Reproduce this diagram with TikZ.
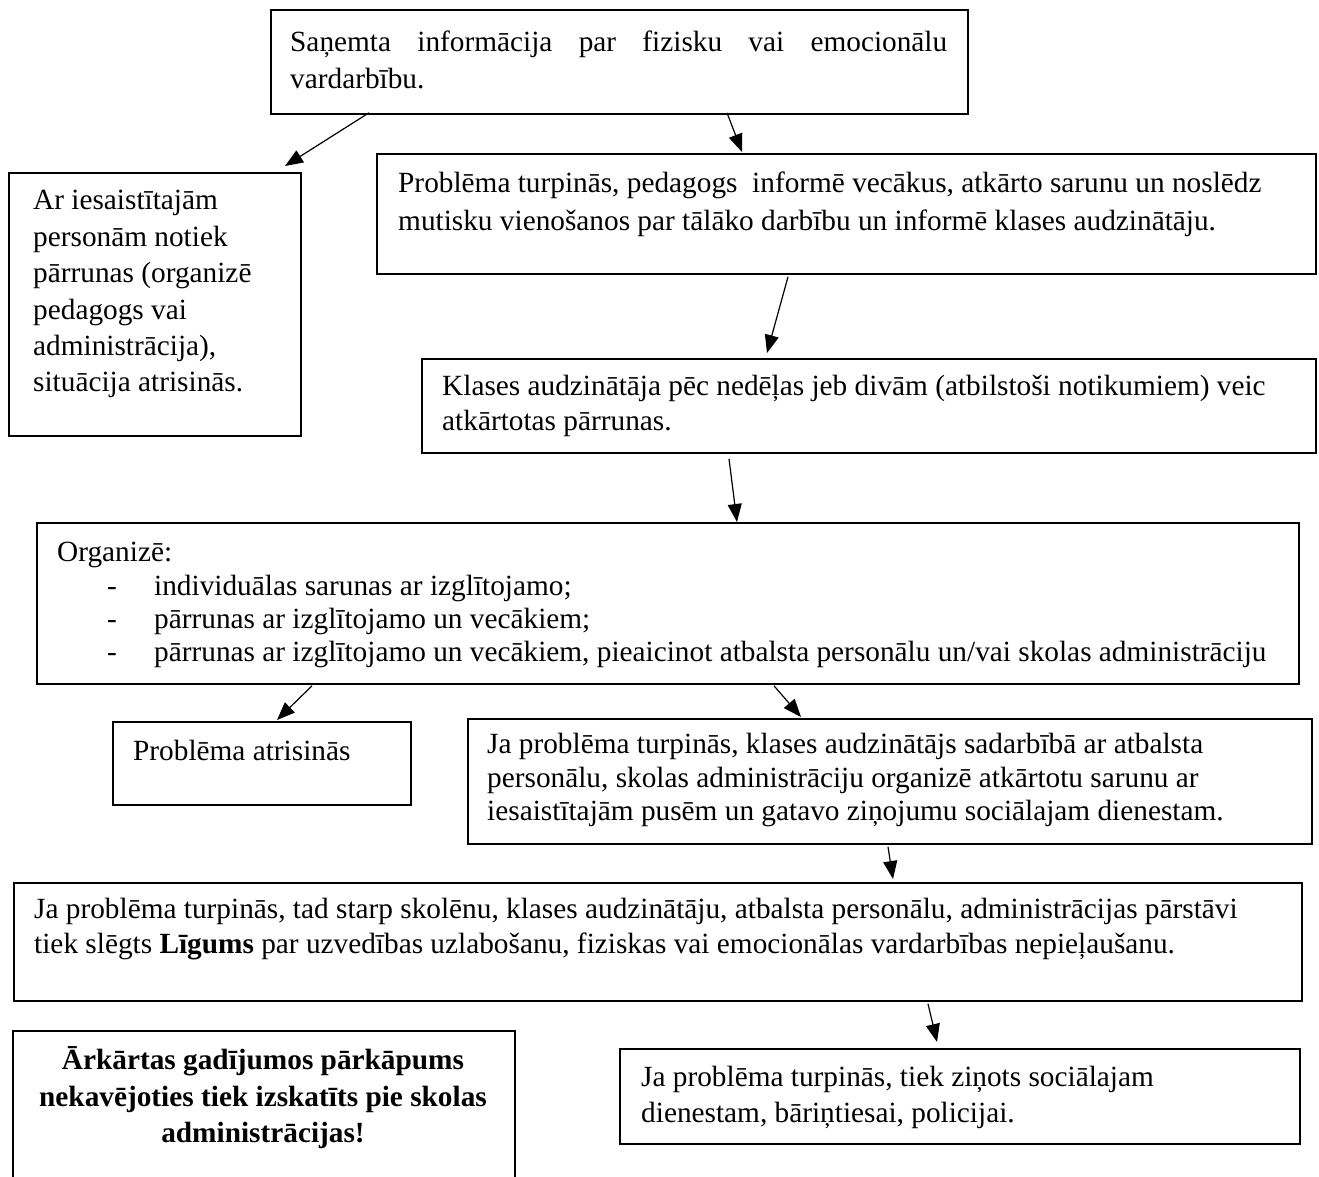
\documentclass[tikz,border=0pt]{standalone}
\usepackage{fontspec}
\setmainfont{Liberation Serif}
\usetikzlibrary{arrows.meta}
\tikzset{
  boxnode/.style={draw, line width=1.8pt, inner sep=0pt, anchor=north west},
  ln/.style={anchor=base west, inner sep=0pt, font=\fontsize{29.3}{37}\selectfont},
  lnb/.style={anchor=base, inner sep=0pt, font=\fontsize{29.3}{37}\selectfont\bfseries},
  arr/.style={line width=1.2pt, -{Triangle[length=18pt,width=14pt]}},
}
\begin{document}
\begin{tikzpicture}[x=1pt,y=-1pt]
\useasboundingbox (0,0) rectangle (1319,1176);
% boxes
\node[boxnode, minimum width=697pt, minimum height=104pt] (b1) at (270,9) {};
\node[boxnode, minimum width=292pt, minimum height=263pt] (b2) at (8,172) {};
\node[boxnode, minimum width=939pt, minimum height=120pt] (b3) at (376,153) {};
\node[boxnode, minimum width=894pt, minimum height=94pt] (b4) at (421,358) {};
\node[boxnode, minimum width=1262pt, minimum height=161pt] (b5) at (36,522) {};
\node[boxnode, minimum width=298pt, minimum height=83pt] (b6) at (112,721) {};
\node[boxnode, minimum width=844pt, minimum height=125pt] (b7) at (467,718) {};
\node[boxnode, minimum width=1288pt, minimum height=118pt] (b8) at (13,882) {};
\node[boxnode, minimum width=502pt, minimum height=156pt] (b9) at (12,1030) {};
\node[boxnode, minimum width=680pt, minimum height=95pt] (b10) at (619,1048) {};
% texts
\node[ln] (t1a) at (290,51) {\makebox[657pt][s]{Saņemta informācija par fizisku vai emocionālu}};
\node[ln] (t1b) at (290,88) {vardarbību.};
\node[ln] (t2a) at (33,209) {Ar iesaistītajām};
\node[ln] (t2b) at (33,246) {personām notiek};
\node[ln] (t2c) at (33,282) {pārrunas (organizē};
\node[ln] (t2d) at (33,319) {pedagogs vai};
\node[ln] (t2e) at (33,355) {administrācija),};
\node[ln] (t2f) at (33,391) {situācija atrisinās.};
\node[ln] (t3a) at (398,192) {Problēma turpinās, pedagogs\ \ informē vecākus, atkārto sarunu un noslēdz};
\node[ln] (t3b) at (398,230) {mutisku vienošanos par tālāko darbību un informē klases audzinātāju.};
\node[ln] (t4a) at (442,395) {Klases audzinātāja pēc nedēļas jeb divām (atbilstoši notikumiem) veic};
\node[ln] (t4b) at (442,430) {atkārtotas pārrunas.};
\node[ln] (t5a) at (57,561) {Organizē:};
\node[ln] (d5b) at (107,595) {-};
\node[ln] (t5b) at (154,595) {individuālas sarunas ar izglītojamo;};
\node[ln] (d5c) at (107,628) {-};
\node[ln] (t5c) at (154,628) {pārrunas ar izglītojamo un vecākiem;};
\node[ln] (d5d) at (107,661) {-};
\node[ln] (t5d) at (154,661) {pārrunas ar izglītojamo un vecākiem, pieaicinot atbalsta personālu un/vai skolas administrāciju};
\node[ln] (t6a) at (133,760) {Problēma atrisinās};
\node[ln] (t7a) at (487,753) {Ja problēma turpinās, klases audzinātājs sadarbībā ar atbalsta};
\node[ln] (t7b) at (487,787) {personālu, skolas administrāciju organizē atkārtotu sarunu ar};
\node[ln] (t7c) at (487,820) {iesaistītajām pusēm un gatavo ziņojumu sociālajam dienestam.};
\node[ln] (t8a) at (34,918) {Ja problēma turpinās, tad starp skolēnu, klases audzinātāju, atbalsta personālu, administrācijas pārstāvi};
\node[ln] (t8b) at (34,953) {tiek slēgts \textbf{Līgums} par uzvedības uzlabošanu, fiziskas vai emocionālas vardarbības nepieļaušanu.};
\node[lnb] (t9a) at (263,1069) {Ārkārtas gadījumos pārkāpums};
\node[lnb] (t9b) at (263,1106) {nekavējoties tiek izskatīts pie skolas};
\node[lnb] (t9c) at (263,1142) {administrācijas!};
\node[ln] (t10a) at (641,1086) {Ja problēma turpinās, tiek ziņots sociālajam};
\node[ln] (t10b) at (641,1122) {dienestam, bāriņtiesai, policijai.};
% arrows
\draw[arr] ([xshift=99pt,yshift=2pt]b1.south west) -- ([xshift=277pt,yshift=6pt]b2.north west);
\draw[arr] ([xshift=457pt,yshift=2pt]b1.south west) -- ([xshift=366pt,yshift=1pt]b3.north west);
\draw[arr] ([xshift=412pt,yshift=-2pt]b3.south west) -- ([xshift=346pt,yshift=5pt]b4.north west);
\draw[arr] ([xshift=308pt,yshift=-5pt]b4.south west) -- ([xshift=701pt,yshift=0pt]b5.north west);
\draw[arr] ([xshift=276pt,yshift=-1pt]b5.south west) -- ([xshift=165pt,yshift=1pt]b6.north west);
\draw[arr] ([xshift=738pt,yshift=-1pt]b5.south west) -- ([xshift=334pt,yshift=1pt]b7.north west);
\draw[arr] ([xshift=421pt,yshift=-2pt]b7.south west) -- ([xshift=880pt,yshift=3pt]b8.north west);
\draw[arr] ([xshift=915pt,yshift=-2pt]b8.south west) -- ([xshift=318pt,yshift=6pt]b10.north west);
\end{tikzpicture}
\end{document}
